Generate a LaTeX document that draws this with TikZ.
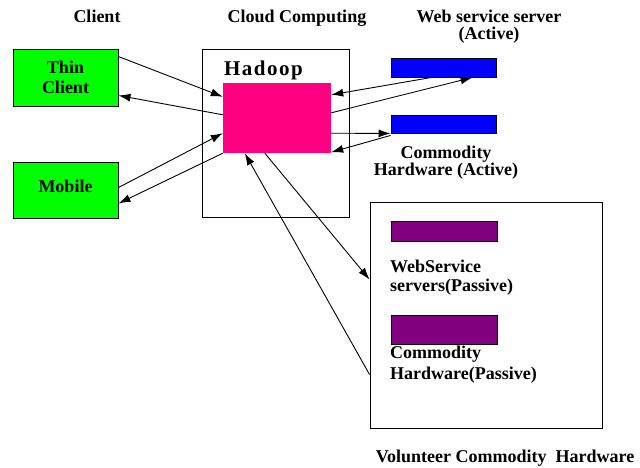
\documentclass[tikz,border=0pt]{standalone}
\usepackage{fontspec}
\setmainfont{Liberation Serif}
\newfontfamily\hadoopfont[LetterSpace=7]{Liberation Serif}
\usetikzlibrary{arrows.meta}

\definecolor{thingreen}{RGB}{0,255,0}
\definecolor{hadooppink}{RGB}{255,0,128}
\definecolor{activeblue}{RGB}{0,0,255}
\definecolor{passivepurple}{RGB}{128,0,128}

\begin{document}
\begin{tikzpicture}[x=1pt,y=-1pt,
    font=\fontsize{18}{20}\selectfont\bfseries,
    box/.style={draw,line width=0.9pt,inner sep=0pt},
    link/.style={-{Latex[length=12pt,width=8pt]},line width=0.9pt}]
    \useasboundingbox (0,0) rectangle (640,468);

    \node[anchor=base] (client) at (97,23) {Client};
    \node[anchor=base] (cloudlabel) at (297,23) {Cloud Computing};
    \node[align=center,inner sep=0pt,font=\fontsize{18}{17}\selectfont\bfseries] (weblabel) at (489,27) {Web service server\\(Active)};

    \node[box,fill=thingreen,minimum width=105pt,minimum height=57pt,align=center,font=\fontsize{18}{20}\selectfont\bfseries] (thin) at (65.5,77.5) {Thin\\Client};
    \node[box,fill=thingreen,minimum width=105pt,minimum height=56pt] (mobile) at (65.5,190) {\raisebox{8pt}{Mobile}};

    \node[box,minimum width=147pt,minimum height=168pt] (cloud) at (275.5,133) {};
    \node[anchor=base west,inner sep=0pt] (hadooplabel) at (224,76) {\hadoopfont\fontsize{21}{21}\selectfont\bfseries Hadoop};
    \node[fill=hadooppink,inner sep=0pt,minimum width=108pt,minimum height=70pt] (pink) at (277,118) {};

    \node[box,fill=activeblue,minimum width=105pt,minimum height=19pt] (web) at (443.5,67.5) {};
    \node[box,fill=activeblue,minimum width=105pt,minimum height=18pt] (comm) at (443.5,124) {};
    \node[align=center,inner sep=0pt,font=\fontsize{18}{17}\selectfont\bfseries] (commlabel) at (446,163) {Commodity\\Hardware (Active)};

    \node[box,minimum width=232pt,minimum height=226pt] (vol) at (486,315) {};
    \node[box,fill=passivepurple,minimum width=106pt,minimum height=20pt] (wsp) at (444,231) {};
    \node[box,fill=passivepurple,minimum width=106pt,minimum height=29pt] (chp) at (444,329.5) {};
    \node[anchor=west,align=left,inner sep=0pt,font=\fontsize{18}{19}\selectfont\bfseries] (wsplabel) at (390,278) {WebService\\servers(Passive)};
    \node[anchor=west,align=left,inner sep=0pt,font=\fontsize{18}{21}\selectfont\bfseries] (chplabel) at (390,365) {Commodity\\Hardware(Passive)};
    \node[anchor=base,inner sep=0pt] (vollabel) at (505,462) {Volunteer Commodity\ \ Hardware};

    \draw[link] ([yshift=-8pt]thin.north east) -- ([yshift=-14pt]pink.north west);
    \draw[link] ([yshift=-32pt]pink.north west) -- ([yshift=11pt]thin.south east);
    \draw[link] ([yshift=-26pt]mobile.north east) -- ([yshift=20pt]pink.south west);
    \draw[link] (pink.south west) -- ([yshift=15pt]mobile.south east);

    \draw[link] ([xshift=41pt]web.south west) -- ([yshift=-12pt]pink.north east);
    \draw[link] ([yshift=-30pt]pink.north east) -- ([xshift=82pt]web.south west);
    \draw[link] ([yshift=20pt]pink.south east) -- (comm.south west);
    \draw[link] ([yshift=-2pt]comm.south west) -- ([yshift=1pt]pink.south east);

    \draw[link] ([xshift=42pt]pink.south west) -- ([yshift=-78pt]vol.north west);
    \draw[link] ([yshift=-173pt]vol.north west) -- ([xshift=22pt]pink.south west);
\end{tikzpicture}
\end{document}
